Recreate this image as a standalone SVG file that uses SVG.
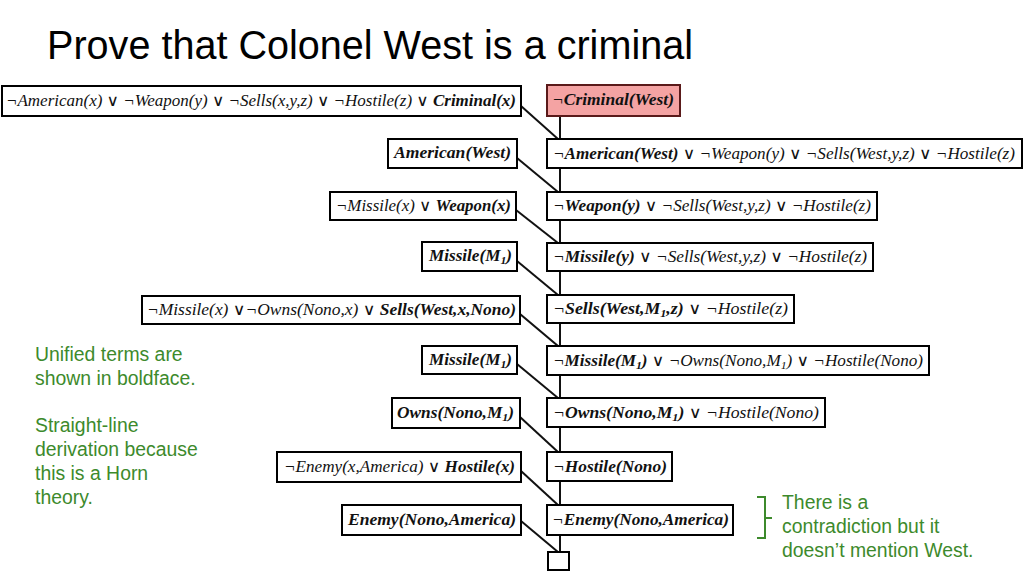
<svg xmlns="http://www.w3.org/2000/svg" width="1024" height="576" viewBox="0 0 1024 576">
<style>
.bx{fill:#fff;stroke:#000;stroke-width:2}
.red{fill:#f4a3a3;stroke:#5a1a1a;stroke-width:2}
.f{font-family:"Liberation Serif","DejaVu Serif",serif;font-style:italic;font-size:16px;fill:#111}
.b{font-weight:bold}
.s{font-size:11px}
.g{font-family:"Liberation Sans",Arial,sans-serif;font-size:19.4px;fill:#3d8a2c}
.ln{stroke:#111;stroke-width:2;fill:none}
</style>
<rect width="1024" height="576" fill="#fff"/>
<text x="47" y="59" font-family="Liberation Sans, Arial, sans-serif" font-size="40" fill="#000" textLength="646" lengthAdjust="spacingAndGlyphs">Prove that Colonel West is a criminal</text>

<g id="connectors">
<line class="ln" x1="560" y1="116" x2="560" y2="139"/>
<line class="ln" x1="560" y1="168" x2="560" y2="192"/>
<line class="ln" x1="560" y1="220" x2="560" y2="243"/>
<line class="ln" x1="560" y1="271" x2="560" y2="295"/>
<line class="ln" x1="560" y1="323" x2="560" y2="346"/>
<line class="ln" x1="560" y1="375" x2="560" y2="398"/>
<line class="ln" x1="560" y1="427" x2="560" y2="452"/>
<line class="ln" x1="560" y1="481" x2="560" y2="505"/>
<line class="ln" x1="560" y1="535" x2="560" y2="552"/>
<line class="ln" x1="521" y1="106" x2="558" y2="139"/>
<line class="ln" x1="517" y1="158" x2="558" y2="192"/>
<line class="ln" x1="516" y1="210" x2="558" y2="243"/>
<line class="ln" x1="517" y1="261" x2="558" y2="295"/>
<line class="ln" x1="520" y1="314" x2="558" y2="346"/>
<line class="ln" x1="517" y1="364" x2="558" y2="398"/>
<line class="ln" x1="520" y1="417" x2="558" y2="452"/>
<line class="ln" x1="521" y1="471" x2="558" y2="505"/>
<line class="ln" x1="521" y1="521" x2="558" y2="552"/>
</g>

<g id="r1l"><rect class="bx" x="2" y="86" width="519" height="30"/><text class="f" x="6" y="106" textLength="510" lengthAdjust="spacingAndGlyphs">¬American(x) ∨ ¬Weapon(y) ∨ ¬Sells(x,y,z) ∨ ¬Hostile(z) ∨ <tspan class="b">Criminal(x)</tspan></text></g>
<g id="r1r"><rect class="red" x="547" y="85" width="133" height="31"/><text class="f" x="552" y="105" textLength="122" lengthAdjust="spacingAndGlyphs">¬<tspan class="b">Criminal(West)</tspan></text></g>

<g id="r2l"><rect class="bx" x="388" y="139" width="129" height="29"/><text class="f" x="394" y="158" textLength="117" lengthAdjust="spacingAndGlyphs"><tspan class="b">American(West)</tspan></text></g>
<g id="r2r"><rect class="bx" x="547" y="139" width="475" height="29"/><text class="f" x="553" y="159" textLength="462" lengthAdjust="spacingAndGlyphs">¬<tspan class="b">American(West)</tspan> ∨ ¬Weapon(y) ∨ ¬Sells(West,y,z) ∨ ¬Hostile(z)</text></g>

<g id="r3l"><rect class="bx" x="330" y="192" width="186" height="28"/><text class="f" x="336" y="211" textLength="175" lengthAdjust="spacingAndGlyphs">¬Missile(x) ∨ <tspan class="b">Weapon(x)</tspan></text></g>
<g id="r3r"><rect class="bx" x="547" y="192" width="330" height="28"/><text class="f" x="553" y="211" textLength="318" lengthAdjust="spacingAndGlyphs">¬<tspan class="b">Weapon(y)</tspan> ∨ ¬Sells(West,y,z) ∨ ¬Hostile(z)</text></g>

<g id="r4l"><rect class="bx" x="422" y="242" width="95" height="29"/><text class="f" x="429" y="261" textLength="83" lengthAdjust="spacingAndGlyphs"><tspan class="b">Missile(M<tspan class="s" dy="3">1</tspan><tspan dy="-3">)</tspan></tspan></text></g>
<g id="r4r"><rect class="bx" x="547" y="243" width="326" height="28"/><text class="f" x="553" y="262" textLength="314" lengthAdjust="spacingAndGlyphs">¬<tspan class="b">Missile(y)</tspan> ∨ ¬Sells(West,y,z) ∨ ¬Hostile(z)</text></g>

<g id="r5l"><rect class="bx" x="142" y="296" width="378" height="28"/><text class="f" x="147" y="315" textLength="369" lengthAdjust="spacingAndGlyphs">¬Missile(x) ∨¬Owns(Nono,x) ∨ <tspan class="b">Sells(West,x,Nono)</tspan></text></g>
<g id="r5r"><rect class="bx" x="547" y="295" width="247" height="28"/><text class="f" x="553" y="314" textLength="235" lengthAdjust="spacingAndGlyphs">¬<tspan class="b">Sells(West,M<tspan class="s" dy="3">1</tspan><tspan dy="-3">,z)</tspan></tspan> ∨ ¬Hostile(z)</text></g>

<g id="r6l"><rect class="bx" x="422" y="346" width="95" height="28"/><text class="f" x="429" y="365" textLength="83" lengthAdjust="spacingAndGlyphs"><tspan class="b">Missile(M<tspan class="s" dy="3">1</tspan><tspan dy="-3">)</tspan></tspan></text></g>
<g id="r6r"><rect class="bx" x="547" y="346" width="382" height="29"/><text class="f" x="553" y="366" textLength="370" lengthAdjust="spacingAndGlyphs">¬<tspan class="b">Missile(M<tspan class="s" dy="3">1</tspan><tspan dy="-3">)</tspan></tspan> ∨ ¬Owns(Nono,M<tspan class="s" dy="3">1</tspan><tspan dy="-3">)</tspan> ∨ ¬Hostile(Nono)</text></g>

<g id="r7l"><rect class="bx" x="392" y="398" width="128" height="30"/><text class="f" x="397" y="418" textLength="117" lengthAdjust="spacingAndGlyphs"><tspan class="b">Owns(Nono,M<tspan class="s" dy="3">1</tspan><tspan dy="-3">)</tspan></tspan></text></g>
<g id="r7r"><rect class="bx" x="547" y="398" width="278" height="29"/><text class="f" x="553" y="418" textLength="266" lengthAdjust="spacingAndGlyphs">¬<tspan class="b">Owns(Nono,M<tspan class="s" dy="3">1</tspan><tspan dy="-3">)</tspan></tspan> ∨ ¬Hostile(Nono)</text></g>

<g id="r8l"><rect class="bx" x="277" y="452" width="244" height="30"/><text class="f" x="284" y="472" textLength="231" lengthAdjust="spacingAndGlyphs">¬Enemy(x,America) ∨ <tspan class="b">Hostile(x)</tspan></text></g>
<g id="r8r"><rect class="bx" x="547" y="452" width="125" height="29"/><text class="f" x="553" y="472" textLength="114" lengthAdjust="spacingAndGlyphs">¬<tspan class="b">Hostile(Nono)</tspan></text></g>

<g id="r9l"><rect class="bx" x="342" y="505" width="179" height="30"/><text class="f" x="348" y="525" textLength="168" lengthAdjust="spacingAndGlyphs"><tspan class="b">Enemy(Nono,America)</tspan></text></g>
<g id="r9r"><rect class="bx" x="547" y="505" width="186" height="30"/><text class="f" x="552" y="525" textLength="177" lengthAdjust="spacingAndGlyphs">¬<tspan class="b">Enemy(Nono,America)</tspan></text></g>

<g id="empty"><rect class="bx" x="548" y="552" width="21" height="18"/></g>

<g id="note-left" class="g">
<text x="35" y="361">Unified terms are</text>
<text x="35" y="385">shown in boldface.</text>
<text x="35" y="432">Straight-line</text>
<text x="35" y="456">derivation because</text>
<text x="35" y="480">this is a Horn</text>
<text x="35" y="504">theory.</text>
</g>
<g id="note-right">
<path d="M757 497 H765 V538 H757 M765 518 H772" stroke="#3d8a2c" stroke-width="2" fill="none"/>
<g class="g">
<text x="782" y="509">There is a</text>
<text x="782" y="533">contradiction but it</text>
<text x="782" y="557">doesn’t mention West.</text>
</g>
</g>
</svg>
